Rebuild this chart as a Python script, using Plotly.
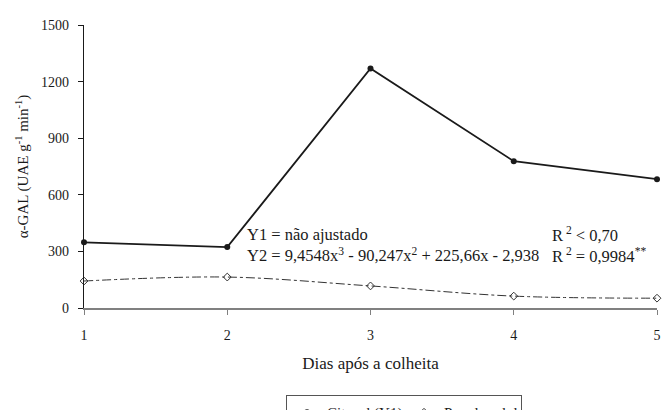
import plotly.graph_objects as go

days = [1, 2, 3, 4, 5]
citosol_y1 = [348, 323, 1270, 778, 683]
parede_y2 = [143, 164, 117, 63, 52]
y_ticks = [0, 300, 600, 900, 1200, 1500]

FONT = "Liberation Serif, Times New Roman, serif"

fig = go.Figure()

fig.add_trace(go.Scatter(
    x=days, y=parede_y2, mode="lines", line=dict(color="#333333", width=1, dash="dashdot", shape="spline", smoothing=1.0),
    showlegend=False, hoverinfo="skip", cliponaxis=False))

fig.add_trace(go.Scatter(
    x=days, y=citosol_y1, mode="lines+markers", name="Citosol (Y1)",
    line=dict(color="#1a1a1a", width=1.8),
    marker=dict(symbol="circle", size=6, color="#1a1a1a"), cliponaxis=False))

fig.add_trace(go.Scatter(
    x=days, y=parede_y2, mode="markers", name="Parede celular (Y2)",
    marker=dict(symbol="diamond-open", size=6, color="#333333", line=dict(width=1)), cliponaxis=False))

annots = [
    dict(x=245, y=245, text="Y1 = não ajustado<br>Y2 = 9,4548x<sup>3</sup> - 90,247x<sup>2</sup> + 225,66x - 2,938"),
    dict(x=550, y=245, text="R<sup> 2</sup> < 0,70<br>R<sup> 2</sup> = 0,9984<sup>**</sup>"),
]
L, R, T, B = 84, 13, 25, 102
W, H = 670, 410
pw, ph = W - L - R, H - T - B
for a in annots:
    fig.add_annotation(
        x=(a["x"] - L) / pw, y=1 - (a["y"] - T) / ph, xref="paper", yref="paper",
        text=a["text"], showarrow=False, xanchor="left", yanchor="middle", align="left",
        font=dict(family=FONT, size=16.5, color="#1a1a1a"))

fig.update_layout(
    width=W, height=H,
    margin=dict(l=L, r=R, t=T, b=B, autoexpand=False),
    paper_bgcolor="white", plot_bgcolor="white",
    font=dict(family=FONT, size=14, color="#1a1a1a"),
    showlegend=True,
    legend=dict(orientation="h", x=(286 - L) / pw, xanchor="left",
                y=1 - (395 - T) / ph, yanchor="top",
                bordercolor="#555555", borderwidth=1, bgcolor="white",
                font=dict(family=FONT, size=15), itemwidth=30, tracegroupgap=0,
                entrywidth=72, entrywidthmode="pixels"),
)

fig.update_xaxes(
    range=[1, 5], tickvals=days, ticktext=[str(d) for d in days],
    showline=True, linecolor="#808080", linewidth=2,
    ticks="outside", ticklen=5, tickcolor="#808080", tickwidth=1,
    showgrid=False, zeroline=False, ticklabelstandoff=8,
    title=dict(text="Dias após a colheita", font=dict(family=FONT, size=17), standoff=15),
    tickfont=dict(family=FONT, size=14))

fig.update_yaxes(
    range=[0, 1500], tickvals=y_ticks,
    showline=True, linecolor="#1a1a1a", linewidth=1.2,
    ticks="outside", ticklen=5, tickcolor="#1a1a1a", tickwidth=1,
    showgrid=False, zeroline=False, ticklabelstandoff=6,
    title=dict(text="α-GAL (UAE g<sup>-1</sup> min<sup>-1</sup>)", font=dict(family=FONT, size=15), standoff=8),
    tickfont=dict(family=FONT, size=14))

fig.write_html("out.html", config={"displayModeBar": False},
               post_script="document.body.style.margin='0';document.body.style.overflow='hidden';")
